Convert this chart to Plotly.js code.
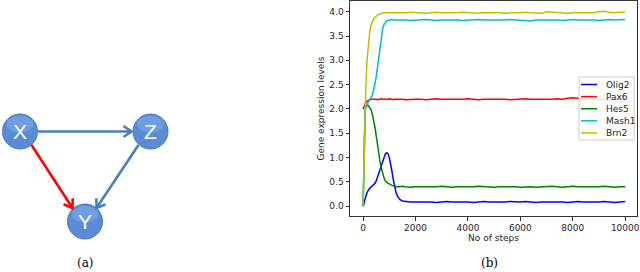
<!DOCTYPE html>
<html><head><meta charset="utf-8">
<script src="https://cdn.plot.ly/plotly-3.0.1.min.js"></script>
<style>html,body{margin:0;padding:0;background:#fff}#c{width:640px;height:272px}</style>
</head><body><div id="c"></div>
<script>
const steps = [0,25,50,75,100,150,200,250,300,350,400,450,500,550,600,650,700,750,800,850,900,950,1000,1050,1100,1150,1200,1250,1300,1400,1500,1600,1800,2000,
2200,2400,2600,2800,3000,3200,3400,3600,3800,4000,4200,4400,4600,4800,5000,5200,5400,5600,5800,6000,6200,6400,6600,6800,7000,7200,7400,7600,7800,8000,8200,8400,8600,8800,9000,9200,9400,9600,9800,10000];
const seriesNames = ["Olig2","Pax6","Hes5","Mash1","Brn2"];
const olig2 = [0,0.03,0.10,0.16,0.21,0.28,0.33,0.37,0.40,0.42,0.44,0.47,0.52,0.60,0.69,0.79,0.88,0.96,1.03,1.08,1.10,1.08,1.00,0.88,0.72,0.55,0.41,0.30,0.22,0.14,0.11,0.10,0.09,0.09,
0.09,0.10,0.09,0.08,0.09,0.10,0.09,0.09,0.10,0.09,0.08,0.09,0.10,0.09,0.09,0.08,0.09,0.10,0.09,0.09,0.10,0.09,0.08,0.09,0.09,0.10,0.09,0.09,0.08,0.09,0.10,0.09,0.09,0.08,0.09,0.10,0.09,0.08,0.09,0.10];
const pax6 = [2.00,2.04,2.08,2.11,2.13,2.16,2.18,2.19,2.20,2.20,2.21,2.20,2.20,2.19,2.20,2.20,2.21,2.20,2.20,2.19,2.20,2.20,2.21,2.20,2.20,2.19,2.20,2.20,2.21,2.20,2.20,2.19,2.20,2.20,
2.20,2.19,2.20,2.21,2.20,2.20,2.19,2.20,2.20,2.21,2.20,2.19,2.20,2.20,2.21,2.20,2.20,2.19,2.20,2.20,2.21,2.20,2.20,2.19,2.20,2.20,2.21,2.20,2.22,2.23,2.22,2.21,2.20,2.20,2.19,2.20,2.21,2.20,2.20,2.21];
const hes5 = [0,0.90,1.70,1.98,2.04,2.07,2.07,2.04,1.99,1.90,1.78,1.63,1.45,1.25,1.06,0.90,0.77,0.66,0.58,0.52,0.49,0.47,0.46,0.44,0.43,0.42,0.41,0.40,0.40,0.40,0.41,0.40,0.39,0.40,
0.40,0.39,0.40,0.40,0.41,0.40,0.39,0.40,0.40,0.39,0.40,0.41,0.40,0.40,0.39,0.40,0.40,0.41,0.40,0.39,0.40,0.40,0.39,0.40,0.40,0.41,0.40,0.39,0.40,0.41,0.40,0.40,0.39,0.40,0.40,0.41,0.40,0.39,0.40,0.40];
const mash1 = [0,0.80,1.60,1.95,2.05,2.10,2.15,2.19,2.22,2.28,2.38,2.50,2.66,2.86,3.08,3.32,3.52,3.66,3.74,3.79,3.81,3.82,3.83,3.83,3.84,3.83,3.83,3.84,3.83,3.83,3.84,3.83,3.82,3.83,
3.83,3.84,3.83,3.82,3.83,3.83,3.84,3.83,3.82,3.83,3.83,3.84,3.83,3.83,3.82,3.83,3.83,3.84,3.83,3.83,3.82,3.81,3.83,3.83,3.84,3.83,3.83,3.82,3.83,3.84,3.83,3.83,3.84,3.83,3.82,3.83,3.84,3.83,3.83,3.84];
const brn2 = [0,0.60,1.40,2.00,2.40,3.00,3.35,3.58,3.72,3.80,3.85,3.88,3.91,3.93,3.95,3.96,3.97,3.97,3.98,3.98,3.98,3.97,3.98,3.98,3.97,3.98,3.98,3.97,3.98,3.98,3.97,3.98,3.99,3.98,
3.98,3.97,3.98,3.99,3.98,3.98,3.97,3.98,3.99,3.98,3.98,3.97,3.98,3.98,3.99,3.98,3.97,3.98,3.98,3.98,3.99,3.98,3.98,3.97,4.00,3.99,3.98,3.98,3.97,3.98,3.98,3.99,3.98,3.98,4.00,4.01,3.99,3.98,3.99,3.99];
const xTicks = [0,2000,4000,6000,8000,10000];
const xTickText = ["0","2000","4000","6000","8000","10000"];
const yTicks = [0,0.5,1,1.5,2,2.5,3,3.5,4];
const nodeLabels = ["X","Z","Y"];

const colors = ["#0000ff","#ff0000","#008000","#00bfbf","#bfbf00"];
const vals = [olig2,pax6,hes5,mash1,brn2];
const traces = vals.map((v,i)=>({x:steps,y:v,name:seriesNames[i],type:"scatter",mode:"lines",
  line:{color:colors[i],width:1.5},showlegend:false}));

const W=640,H=272;
const px = x=>x/W, py = y=>1-y/H;
const shapes=[];
const annotations=[];
const nodes = [[20,131.5],[150.5,131.5],[85,221.5]];
const R=17.5;
nodes.forEach(([cx,cy],i)=>{
  shapes.push({type:"circle",xref:"paper",yref:"paper",x0:px(cx-R),x1:px(cx+R),y0:py(cy+R),y1:py(cy-R),
    fillcolor:"#5a8bd6",line:{color:"#4a78bd",width:1},layer:"above"});
  shapes.push({type:"circle",xref:"paper",yref:"paper",x0:px(cx-R+4),x1:px(cx+R-4),y0:py(cy+1),y1:py(cy-R+2),
    fillcolor:"rgba(140,180,240,0.45)",line:{width:0},layer:"above"});
  annotations.push({xref:"paper",yref:"paper",x:px(cx),y:py(cy),text:nodeLabels[i],showarrow:false,
    font:{family:"Liberation Sans, Arial",size:21,color:"#ffffff"},xanchor:"center",yanchor:"middle"});
});
function arrow(x0,y0,x1,y1,color){
  const dx=x1-x0, dy=y1-y0, L=Math.hypot(dx,dy), ux=dx/L, uy=dy/L;
  const hl=8, hw=5.5;
  const bx=x1-ux*hl, by=y1-uy*hl;
  const ax1=bx-uy*hw, ay1=by+ux*hw, ax2=bx+uy*hw, ay2=by-ux*hw;
  const p=(x,y)=>px(x).toFixed(5)+","+py(y).toFixed(5);
  shapes.push({type:"path",xref:"paper",yref:"paper",path:"M"+p(x0,y0)+" L"+p(x1,y1),line:{color:color,width:2.6}});
  shapes.push({type:"path",xref:"paper",yref:"paper",path:"M"+p(ax1,ay1)+" L"+p(x1,y1)+" L"+p(ax2,ay2),line:{color:color,width:2.6}});
}
arrow(38,131.5,131.5,131.5,"#4a7ebb");
arrow(31.5,145,72.5,208,"#ff0000");
arrow(138.5,145,96.5,208,"#4a7ebb");

annotations.push({xref:"paper",yref:"paper",x:px(85),y:py(263),text:"(a)",showarrow:false,
  font:{family:"DejaVu Serif, Liberation Serif",size:12,color:"#000"},xanchor:"center",yanchor:"middle"});
annotations.push({xref:"paper",yref:"paper",x:px(489),y:py(263),text:"(b)",showarrow:false,
  font:{family:"DejaVu Serif, Liberation Serif",size:12,color:"#000"},xanchor:"center",yanchor:"middle"});

// legend box (matplotlib style)
shapes.push({type:"rect",xref:"paper",yref:"paper",x0:px(579),x1:px(634),y0:py(140),y1:py(77),
  fillcolor:"rgba(255,255,255,0.85)",line:{color:"#cccccc",width:1},layer:"above"});
seriesNames.forEach((n,i)=>{
  const yy=84.5+i*12.1;
  shapes.push({type:"line",xref:"paper",yref:"paper",x0:px(581),x1:px(597),y0:py(yy),y1:py(yy),
    line:{color:colors[i],width:1.5},layer:"above"});
  annotations.push({xref:"paper",yref:"paper",x:px(604),y:py(yy),text:n,showarrow:false,
    font:{size:9,color:"#262626"},xanchor:"left",yanchor:"middle"});
});

const axCommon={showline:true,mirror:true,linecolor:"#333",linewidth:1,ticks:"outside",ticklen:3.5,tickwidth:1,
  tickcolor:"#333",showgrid:false,zeroline:false,tickfont:{size:9,color:"#262626"}};
const layout={
  width:W,height:H,margin:{l:0,r:0,t:0,b:0},paper_bgcolor:"#fff",plot_bgcolor:"#fff",
  font:{family:"DejaVu Sans",size:9,color:"#262626"},
  xaxis:Object.assign({},axCommon,{domain:[350/W,637/W],range:[-500,10450],tickvals:xTicks,ticktext:xTickText,
    title:{text:"No of steps",font:{size:9},standoff:1}}),
  yaxis:Object.assign({},axCommon,{domain:[1-216/H,1-1/H],range:[-0.2,4.22],tickvals:yTicks,tickformat:".1f",
    title:{text:"Gene expression levels",font:{size:9},standoff:3}}),
  showlegend:false,
  shapes:shapes,annotations:annotations
};
Plotly.newPlot("c",traces,layout,{displayModeBar:false,staticPlot:true});
</script></body></html>
